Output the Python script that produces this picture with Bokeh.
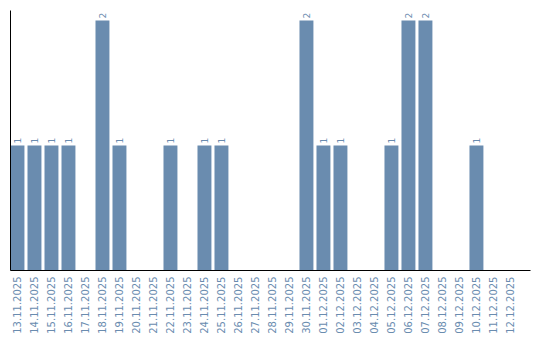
import math
from bokeh.plotting import figure
from bokeh.models import ColumnDataSource, Range1d, FixedTicker
from bokeh.core.properties import value
from bokeh.embed import file_html
from bokeh.resources import INLINE

dates = ["13.11.2025", "14.11.2025", "15.11.2025", "16.11.2025", "17.11.2025",
         "18.11.2025", "19.11.2025", "20.11.2025", "21.11.2025", "22.11.2025",
         "23.11.2025", "24.11.2025", "25.11.2025", "26.11.2025", "27.11.2025",
         "28.11.2025", "29.11.2025", "30.11.2025", "01.12.2025", "02.12.2025",
         "03.12.2025", "04.12.2025", "05.12.2025", "06.12.2025", "07.12.2025",
         "08.12.2025", "09.12.2025", "10.12.2025", "11.12.2025", "12.12.2025"]
counts = [1, 1, 1, 1, 0, 2, 1, 0, 0, 1, 0, 1, 1, 0, 0, 0, 0, 2, 1, 1,
          0, 0, 1, 2, 2, 0, 0, 1, 0, 0]

BAR = "#6a8caf"
idx = list(range(len(dates)))
src = ColumnDataSource(dict(x=idx, top=counts))
nz = [i for i, c in enumerate(counts) if c > 0]
lab = ColumnDataSource(dict(x=[idx[i] for i in nz], y=[counts[i] for i in nz],
                            t=[str(counts[i]) for i in nz]))

p = figure(width=540, height=340, output_backend="svg", toolbar_location=None,
           x_range=Range1d(-0.41, 30.18), y_range=Range1d(0, 2.08),
           min_border_left=10, min_border_right=10, min_border_top=10,
           min_border_bottom=70)
p.outline_line_color = None
p.xgrid.visible = False
p.ygrid.visible = False

p.vbar(x="x", top="top", bottom=0, width=0.82, source=src, color=BAR, line_color=None)
p.text(x="x", y="y", text="t", source=lab, angle=math.pi / 2, text_align="left",
       text_baseline="middle", x_offset=0, y_offset=-2, text_color=BAR,
       text_font=value("DejaVu Sans"), text_font_size="9px")

p.xaxis.ticker = FixedTicker(ticks=idx)
p.xaxis.major_label_overrides = {i: d for i, d in zip(idx, dates)}
p.xaxis.major_label_orientation = math.pi / 2
p.xaxis.major_tick_line_color = None
p.xaxis.minor_tick_line_color = None
p.xaxis.major_tick_out = 0
p.xaxis.major_label_standoff = 6
p.xaxis.major_label_text_color = BAR
p.xaxis.major_label_text_font = "DejaVu Sans"
p.xaxis.major_label_text_font_size = "10px"
p.xaxis.axis_line_color = "black"

p.yaxis.ticker = FixedTicker(ticks=[])
p.yaxis.major_tick_line_color = None
p.yaxis.minor_tick_line_color = None
p.yaxis.major_label_text_font_size = "0px"
p.yaxis.axis_line_color = "black"

open("out.html", "w").write(file_html(p, INLINE))
